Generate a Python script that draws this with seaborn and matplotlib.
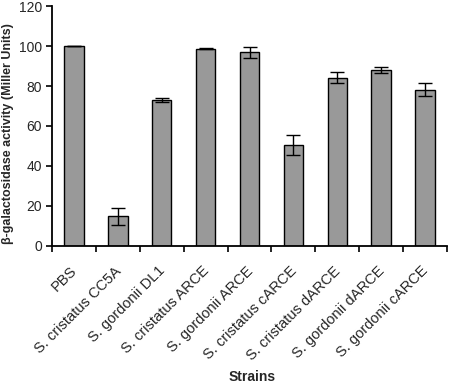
import numpy as np
import pandas as pd
import matplotlib
matplotlib.use("Agg")
from matplotlib import pyplot as plt
from matplotlib import transforms
import seaborn as sns

strains = [
    "PBS",
    "S. cristatus CC5A",
    "S. gordonii DL1",
    "S. cristatus ARCE",
    "S. gordonii ARCE",
    "S. cristatus cARCE",
    "S. cristatus dARCE",
    "S. gordonii dARCE",
    "S. gordonii cARCE",
]
activity = [100, 14.7, 73.1, 98.6, 96.8, 50.6, 84.1, 88.0, 78.1]
errors = [0, 4.1, 1.0, 0.3, 2.8, 4.9, 2.8, 1.6, 3.2]

data = pd.DataFrame({"strain": strains, "activity": activity, "err": errors})

sns.set_style("ticks")
plt.rcParams["font.family"] = ["Liberation Sans", "DejaVu Sans"]

fig, ax = plt.subplots(
    figsize=(4.5, 3.84),
    dpi=100,
    gridspec_kw=dict(left=0.116, right=0.993, top=0.984, bottom=0.36),
)

sns.barplot(
    data=data,
    x="strain",
    y="activity",
    color="#999999",
    saturation=1.0,
    edgecolor="black",
    linewidth=1.0,
    width=0.44,
    ax=ax,
)
ax.errorbar(
    np.arange(len(strains)),
    data["activity"],
    yerr=data["err"],
    fmt="none",
    ecolor="black",
    elinewidth=1.0,
    capsize=4.7,
    capthick=1.0,
)

# Format
ax.set_xlim(-0.5, len(strains) - 0.5)
ax.set_ylim(0, 120)
ax.set_yticks(np.arange(0, 121, 20))
ax.set_xticks(np.arange(-0.5, len(strains), 1.0), minor=True)
ax.tick_params(axis="x", which="major", length=0, pad=13)
ax.tick_params(axis="x", which="minor", length=4, width=1.2, color="black")
ax.tick_params(axis="y", length=4, width=1.2, color="black", labelsize=10)
ax.set_xticks(np.arange(len(strains)))
ax.set_xticklabels(strains, rotation=45, ha="right", rotation_mode="anchor", fontsize=10.5)
shift = transforms.ScaledTranslation(-4 / 100, 0, fig.dpi_scale_trans)
for lbl in ax.get_xticklabels():
    lbl.set_transform(lbl.get_transform() + shift)
sns.despine(ax=ax)
for s in ["left", "bottom"]:
    ax.spines[s].set_linewidth(1.3)
    ax.spines[s].set_color("black")

ax.set_ylabel("β-galactosidase activity (Miller Units)", fontsize=9, weight="bold")
ax.set_xlabel("Strains", fontsize=10, weight="bold")
ax.yaxis.set_label_coords(-0.097, 0.47)
ax.xaxis.set_label_coords(0.506, -0.52)

plt.savefig("out.png", dpi=100)
